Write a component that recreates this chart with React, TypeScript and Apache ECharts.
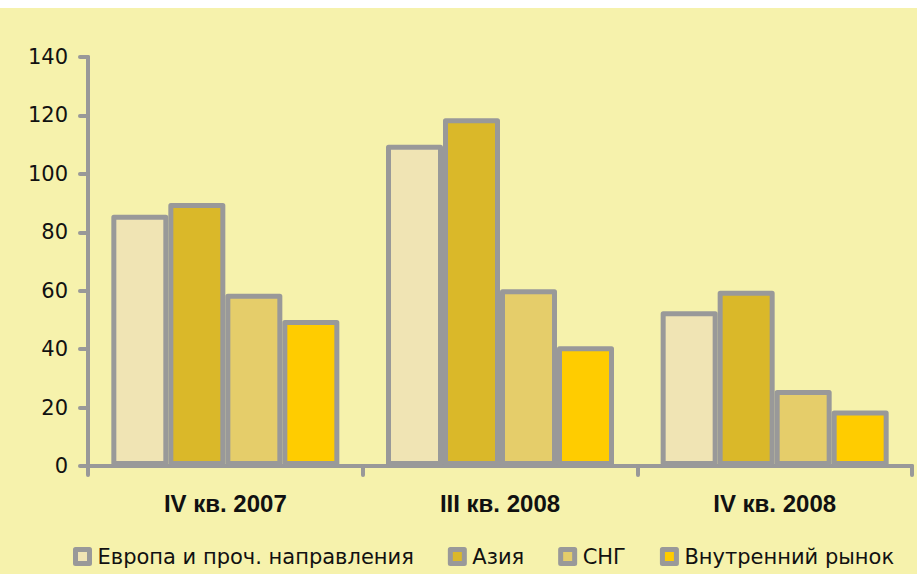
import React, { useEffect, useRef } from "react";
import * as echarts from "echarts";

const categories = ["IV кв. 2007", "III кв. 2008", "IV кв. 2008"];
const seriesNames = ["Европа и проч. направления", "Азия", "СНГ", "Внутренний рынок"];
const europe = [86, 110, 53];
const asia = [90, 119, 60];
const cis = [59, 60.5, 26];
const domestic = [50, 41, 19];
const colors = ["#F0E4B4", "#DAB829", "#E5CD6A", "#FFCC00"];
const yTicks = { min: 0, max: 140, interval: 20 };

export default function App() {
  const ref = useRef<HTMLDivElement>(null);
  useEffect(() => {
    if (!ref.current) return;
    const chart = echarts.init(ref.current, null, { renderer: "svg" });
    const gray = "#999999";
    const dataSets = [europe, asia, cis, domestic];
    chart.setOption({
      animation: false,
      backgroundColor: "#F6F2AC",
      grid: { left: 88, right: 5, top: 49, bottom: 108, containLabel: false },
      legend: {
        data: seriesNames,
        left: 68,
        top: 533,
        itemWidth: 14,
        itemHeight: 14,
        itemGap: 34,
        icon: "rect",
        itemStyle: { borderColor: gray, borderWidth: 5, borderJoin: "round" },
        textStyle: {
          fontFamily: "DejaVu Sans",
          fontSize: 21,
          color: "#111",
          padding: [0, 0, 0, 3],
        },
      },
      xAxis: {
        type: "category",
        data: categories,
        axisLine: { lineStyle: { color: gray, width: 4, cap: "round" } },
        axisTick: { show: true, length: 9, lineStyle: { color: gray, width: 4, cap: "round" } },
        axisLabel: {
          margin: 25,
          fontFamily: "Liberation Sans",
          fontWeight: "bold",
          fontSize: 24,
          color: "#111",
        },
      },
      yAxis: {
        type: "value",
        min: yTicks.min,
        max: yTicks.max,
        interval: yTicks.interval,
        splitLine: { show: false },
        axisLine: { show: true, lineStyle: { color: gray, width: 4, cap: "round" } },
        axisTick: { show: true, length: 8, lineStyle: { color: gray, width: 4, cap: "round" } },
        axisLabel: {
          margin: 20,
          fontFamily: "DejaVu Sans",
          fontSize: 21,
          color: "#111",
        },
      },
      series: seriesNames.map((name, i) => ({
        name,
        type: "bar",
        data: dataSets[i],
        barWidth: 57,
        barGap: "0%",
        itemStyle: {
          color: colors[i],
          borderColor: gray,
          borderWidth: 5,
          borderJoin: "round",
        },
      })),
    });
    return () => chart.dispose();
  }, []);
  return (
    <div style={{ position: "absolute", left: 0, top: 8, width: 917, height: 566 }}>
      <div ref={ref} style={{ width: 917, height: 566 }} />
    </div>
  );
}
